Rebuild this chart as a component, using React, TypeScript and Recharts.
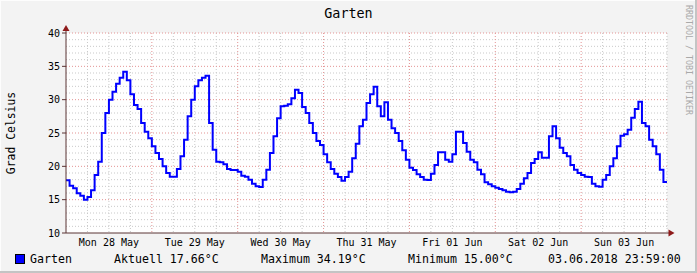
import React from 'react';
import { LineChart, Line, XAxis, YAxis, CartesianGrid, ReferenceDot } from 'recharts';

// hourly temperatures, Mon 28 May 00:00 .. Sun 03 Jun 23:00
const temps: number[] = [
  17.9, 17.1, 16.7, 15.95, 15.6, 15.0, 15.4, 16.4, 18.7, 20.7, 25.0, 28.0, 30.0, 31.2, 32.4, 33.3, 34.19, 32.9, 30.8, 29.2, 28.6, 26.5, 25.2, 24.2,
  23.0, 22.0, 21.1, 20.0, 19.0, 18.45, 18.45, 19.6, 21.5, 24.0, 27.5, 30.0, 32.0, 32.9, 33.3, 33.6, 26.5, 22.5, 20.7, 20.6, 20.3, 19.6, 19.45, 19.45,
  19.2, 18.6, 18.45, 18.0, 17.4, 17.0, 16.9, 18.0, 19.5, 22.0, 24.5, 27.2, 29.0, 29.1, 29.3, 30.2, 31.5, 31.0, 28.9, 28.0, 26.5, 25.0, 23.8, 23.2,
  21.8, 20.6, 19.6, 18.9, 18.4, 17.85, 18.4, 19.2, 21.2, 23.4, 26.0, 27.0, 29.5, 30.8, 31.95, 29.0, 27.5, 29.6, 27.0, 25.7, 25.0, 23.8, 22.4, 21.0,
  19.8, 19.45, 18.8, 18.4, 18.0, 17.95, 18.9, 20.2, 22.1, 22.1, 21.0, 20.7, 21.8, 25.2, 25.2, 23.5, 22.2, 21.0, 20.6, 19.5, 18.8, 17.6, 17.3, 17.0,
  16.8, 16.6, 16.4, 16.2, 16.1, 16.2, 16.6, 17.4, 18.2, 19.0, 20.5, 21.1, 22.1, 21.3, 21.3, 24.5, 26.0, 24.2, 22.8, 22.0, 21.5, 20.2, 19.5, 19.0,
  18.7, 18.45, 18.4, 17.4, 17.0, 16.95, 18.0, 18.7, 20.0, 21.2, 23.0, 24.6, 24.8, 25.5, 27.3, 28.6, 29.7, 26.5, 26.0, 24.0, 23.0, 21.8, 19.5, 17.66,
];

const dayLabels = ['Mon 28 May', 'Tue 29 May', 'Wed 30 May', 'Thu 31 May', 'Fri 01 Jun', 'Sat 02 Jun', 'Sun 03 Jun'];
const dayTicks = [12, 36, 60, 84, 108, 132, 156];
const yTicks = [10, 15, 20, 25, 30, 35, 40];
const majorY = [15, 20, 25, 30, 35, 40];
const minorY = [11, 12, 13, 14, 16, 17, 18, 19, 21, 22, 23, 24, 26, 27, 28, 29, 31, 32, 33, 34, 36, 37, 38, 39];
const majorX = [24, 48, 72, 96, 120, 144];
const minorX = [6, 12, 18, 30, 36, 42, 54, 60, 66, 78, 84, 90, 102, 108, 114, 126, 132, 138, 150, 156, 162, 168];

const seriesName = 'Garten';
const legendItems = [
  { text: 'Aktuell 17.66°C', left: 114 },
  { text: 'Maximum 34.19°C', left: 261 },
  { text: 'Minimum 15.00°C', left: 408 },
  { text: '03.06.2018 23:59:00', left: 548 },
];

const data = temps.map((t, i) => ({ h: i, t }));
data.push({ h: 168, t: temps[temps.length - 1] });

const MONO = '"DejaVu Sans Mono", monospace';
const AXIS = '#5b3434';
const ARROW = '#8e1a1a';

const TopArrow = (p: any) => {
  const { cx, cy } = p;
  return (
    <g>
      <line x1={cx} y1={cy} x2={cx} y2={cy - 4} stroke={AXIS} strokeWidth={1} />
      <polygon points={`${cx - 3.5},${cy - 2} ${cx + 3.5},${cy - 2} ${cx},${cy - 8}`} fill={ARROW} />
    </g>
  );
};

const RightArrow = (p: any) => {
  const { cx, cy } = p;
  return (
    <g>
      <line x1={cx} y1={cy} x2={cx + 3} y2={cy} stroke={AXIS} strokeWidth={1} />
      <polygon points={`${cx + 1.5},${cy - 3.5} ${cx + 1.5},${cy + 3.5} ${cx + 7.5},${cy}`} fill={ARROW} />
    </g>
  );
};

export default function App() {
  return (
    <div
      style={{
        position: 'absolute',
        left: 0,
        top: 0,
        width: 697,
        height: 273,
        background: '#f3f3f3',
        boxShadow: 'inset -2px -2px 0 #c4c4c4, inset 1px 1px 0 #fdfdfd',
        fontFamily: MONO,
        overflow: 'hidden',
      }}
    >
      <div style={{ position: 'absolute', left: 0, width: 697, top: 5, textAlign: 'center', fontSize: 13.4, color: '#000', lineHeight: '18px' }}>
        Garten
      </div>
      <div
        style={{
          position: 'absolute',
          left: 11,
          top: 133,
          transform: 'translate(-50%, -50%) rotate(-90deg)',
          fontSize: 11.4,
          whiteSpace: 'nowrap',
          color: '#000',
        }}
      >
        Grad Celsius
      </div>
      <div
        style={{
          position: 'absolute',
          left: 688.5,
          top: 60,
          transform: 'translate(-50%, -50%) rotate(90deg)',
          fontSize: 8.3,
          whiteSpace: 'nowrap',
          color: '#a9a9a9',
        }}
      >
        RRDTOOL / TOBI OETIKER
      </div>
      <div style={{ position: 'absolute', left: 0, top: 0 }}>
        <LineChart width={697} height={273} data={data} margin={{ top: 33, right: 30, left: 26, bottom: 10 }}>
          <CartesianGrid horizontalValues={minorY} verticalValues={minorX} stroke="#c9c9c9" strokeDasharray="1 2" fill="#ffffff" />
          <CartesianGrid horizontalValues={majorY} verticalValues={majorX} stroke="#e39393" strokeDasharray="1 2" />
          <XAxis
            xAxisId="mid"
            dataKey="h"
            type="number"
            domain={[0, 168]}
            ticks={majorX}
            tick={false}
            tickSize={3}
            tickLine={{ stroke: '#b04848' }}
            axisLine={false}
            height={0}
            interval={0}
          />
          <XAxis
            dataKey="h"
            type="number"
            domain={[0, 168]}
            ticks={dayTicks}
            tickFormatter={(v: number) => dayLabels[dayTicks.indexOf(v)] ?? ''}
            tickLine={false}
            tickSize={0}
            tickMargin={6}
            height={30}
            axisLine={{ stroke: AXIS }}
            tick={{ fontSize: 10, fontFamily: MONO, fill: '#000' }}
            interval={0}
          />
          <YAxis
            domain={[10, 40]}
            ticks={yTicks}
            width={40}
            tickSize={4}
            tickMargin={2}
            tickLine={{ stroke: AXIS }}
            axisLine={{ stroke: AXIS }}
            tick={{ fontSize: 10, fontFamily: MONO, fill: '#000' }}
            interval={0}
          />
          <Line
            type="stepAfter"
            dataKey="t"
            stroke="#0000ff"
            strokeWidth={2}
            dot={false}
            activeDot={false}
            isAnimationActive={false}
          />
          <ReferenceDot x={0} y={40} ifOverflow="visible" shape={TopArrow} />
          <ReferenceDot x={168} y={10} ifOverflow="visible" shape={RightArrow} />
        </LineChart>
      </div>
      <div
        style={{
          position: 'absolute',
          left: 15,
          top: 254,
          width: 8,
          height: 8,
          background: '#0000ff',
          border: '1px solid #000',
        }}
      />
      <div style={{ position: 'absolute', left: 30, top: 250, fontSize: 11.6, lineHeight: '18px', whiteSpace: 'pre', color: '#000' }}>
        {seriesName}
      </div>
      {legendItems.map((it) => (
        <div
          key={it.text}
          style={{ position: 'absolute', left: it.left, top: 250, fontSize: 11.6, lineHeight: '18px', whiteSpace: 'pre', color: '#000' }}
        >
          {it.text}
        </div>
      ))}
    </div>
  );
}
